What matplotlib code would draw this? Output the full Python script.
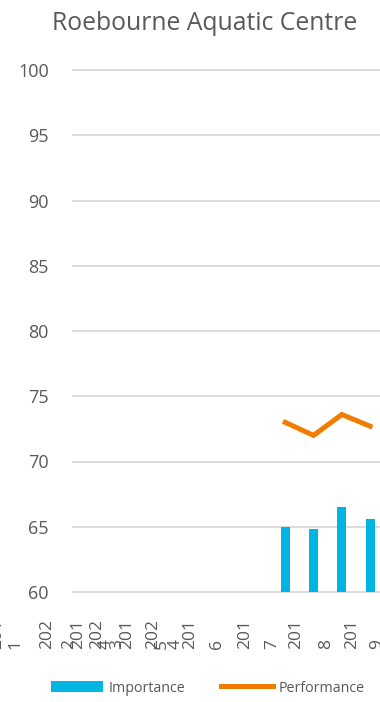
import matplotlib
matplotlib.use('Agg')
import matplotlib.pyplot as plt
from matplotlib.patches import Patch
from matplotlib.lines import Line2D
import matplotlib.transforms as mtransforms

plt.rcParams['font.family'] = ['Open Sans', 'DejaVu Sans']

# survey results per year slot
slot = [7, 8, 9, 10]
importance = [65.0, 64.8, 66.5, 65.6]
performance = [73.0, 72.0, 73.6, 72.7]

y_ticks = [60, 65, 70, 75, 80, 85, 90, 95, 100]

# wrapped year labels as they end up laid out along the axis
year_bits = ['201', '1', '202', '2', '201', '202', '4', '3', '201', '202',
             '5', '4', '201', '6', '201', '7', '201', '8', '201', '9']
year_pos = [-3.19, -2.55, -1.42, -0.64, -0.32, 0.35, 0.67, 1.05, 1.41, 2.33,
            2.64, 3.14, 3.63, 4.59, 5.58, 6.53, 7.38, 8.44, 9.36, 10.24]

BLUE = '#00b5e2'
ORANGE = '#f07d00'
GREY = '#595959'
GRID = '#d9d9d9'

W, H = 380, 702
fig = plt.figure(figsize=(W / 100, H / 100), dpi=100)
ax = fig.add_axes([73 / W, (H - 592) / H, (W - 73) / W, 522 / H])

ax.bar(slot, [v - 60 for v in importance], bottom=60, width=0.32,
       color=BLUE, zorder=2)
ax.plot(slot, performance, color=ORANGE, lw=3.6, solid_joinstyle='miter', zorder=3)

ax.set_ylim(60, 100)
ax.set_xlim(-0.5, -0.5 + (W - 73) / 28.3)
ax.set_yticks(y_ticks)
ax.set_yticklabels([str(t) for t in y_ticks])
ax.tick_params(axis='y', length=0, pad=17.5, labelsize=13, labelcolor=GREY)
ax.set_xticks([])
for y in y_ticks:
    ax.axhline(y, color=GRID, lw=1.3, zorder=1, clip_on=False)
for s in ax.spines.values():
    s.set_visible(False)

trans = mtransforms.blended_transform_factory(ax.transData, ax.transAxes)
for txt, p in zip(year_bits, year_pos):
    ax.text(p, -57 / 522, txt, transform=trans, rotation=90,
            rotation_mode='anchor', ha='left', va='center',
            fontsize=12.5, color=GREY, clip_on=False)

fig.text(205 / W, 1 - 23 / H, 'Roebourne Aquatic Centre', ha='center',
         va='center', fontsize=17.8, color=GREY)

handles = [Patch(facecolor=BLUE, edgecolor='none'),
           Line2D([0], [0], color=ORANGE, lw=3.6)]
leg = fig.legend(handles, ['Importance', 'Performance'], loc='center',
                 bbox_to_anchor=(208 / W, 1 - 688 / H), ncol=2, frameon=False,
                 fontsize=10.3, handlelength=3.6, handleheight=0.7,
                 columnspacing=2.5, handletextpad=0.4)
for t in leg.get_texts():
    t.set_color(GREY)

fig.savefig('out.png', dpi=100)
